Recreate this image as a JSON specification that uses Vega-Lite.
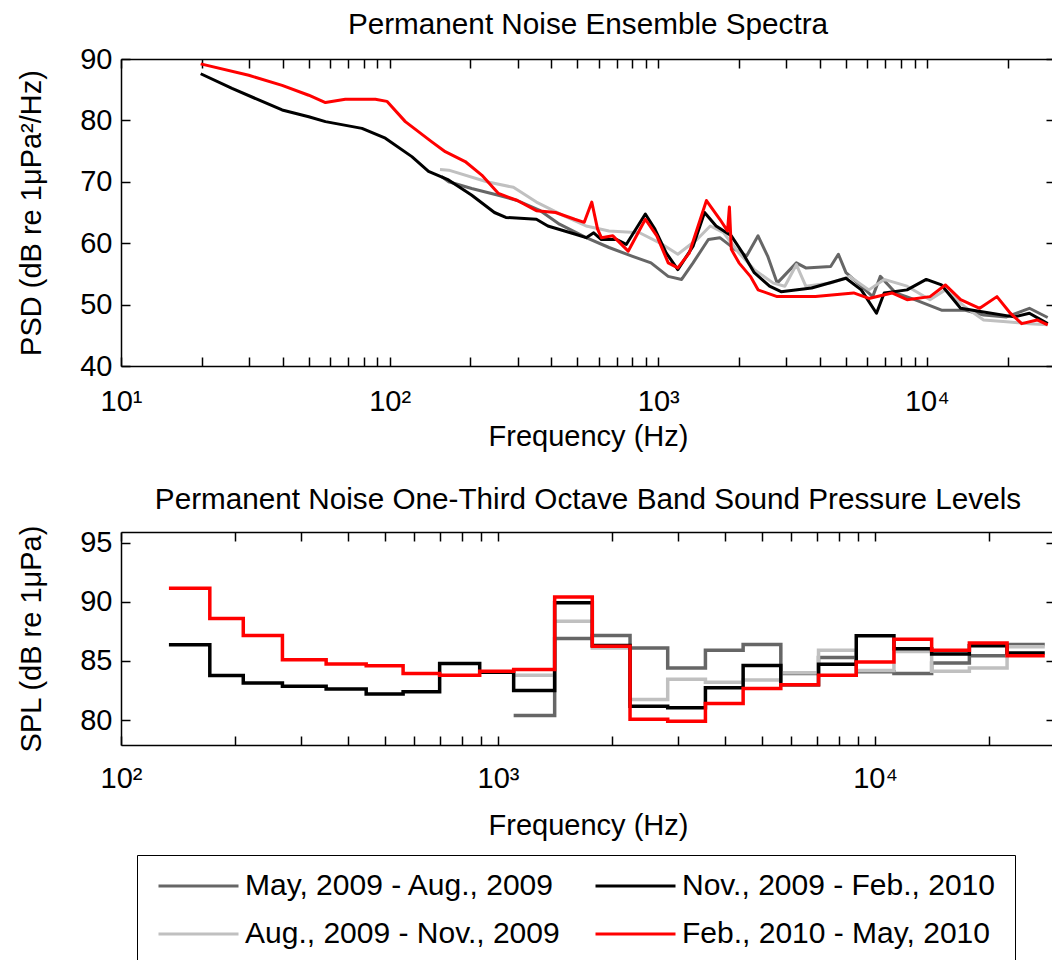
{
  "$schema": "https://vega.github.io/schema/vega-lite/v6.json",
  "padding": {"left": 17, "top": 10, "right": 0, "bottom": 0},
  "background": "white",
  "config": {
    "font": "Liberation Sans",
    "view": {"stroke": null},
    "axis": {
      "grid": false,
      "domainColor": "#000000",
      "domainWidth": 1.5,
      "tickColor": "#000000",
      "tickWidth": 1.5,
      "tickSize": -9,
      "labelColor": "#000000",
      "labelFontSize": 29,
      "labelFont": "Liberation Sans",
      "titleColor": "#000000",
      "titleFontSize": 29,
      "titleFont": "Liberation Sans",
      "titleFontWeight": "normal"
    },
    "title": {"fontSize": 29.7, "fontWeight": "normal", "color": "#000000", "font": "Liberation Sans", "baseline": "alphabetic"},
    "legend": {
      "title": null,
      "columns": 2,
      "symbolType": "stroke",
      "symbolSize": 6400,
      "symbolStrokeWidth": 3,
      "clipHeight": 22,
      "labelFontSize": 30,
      "labelFont": "Liberation Sans",
      "labelColor": "#000000",
      "labelLimit": 0,
      "labelOffset": 5,
      "columnPadding": 34,
      "rowPadding": 18,
      "padding": 20,
      "strokeColor": "#000000",
      "fillColor": "#ffffff"
    }
  },
  "datasets": {
    "psd": [
      {"s": "May, 2009 - Aug., 2009", "f": 156, "v": 70.85},
      {"s": "May, 2009 - Aug., 2009", "f": 166, "v": 70.0},
      {"s": "May, 2009 - Aug., 2009", "f": 202, "v": 68.9},
      {"s": "May, 2009 - Aug., 2009", "f": 254, "v": 67.8},
      {"s": "May, 2009 - Aug., 2009", "f": 299, "v": 66.95},
      {"s": "May, 2009 - Aug., 2009", "f": 364, "v": 65.3},
      {"s": "May, 2009 - Aug., 2009", "f": 429, "v": 63.1},
      {"s": "May, 2009 - Aug., 2009", "f": 539, "v": 60.9},
      {"s": "May, 2009 - Aug., 2009", "f": 656, "v": 59.3},
      {"s": "May, 2009 - Aug., 2009", "f": 798, "v": 57.9},
      {"s": "May, 2009 - Aug., 2009", "f": 940, "v": 56.8},
      {"s": "May, 2009 - Aug., 2009", "f": 1089, "v": 54.6},
      {"s": "May, 2009 - Aug., 2009", "f": 1222, "v": 54.1},
      {"s": "May, 2009 - Aug., 2009", "f": 1348, "v": 56.8},
      {"s": "May, 2009 - Aug., 2009", "f": 1537, "v": 60.6},
      {"s": "May, 2009 - Aug., 2009", "f": 1696, "v": 60.9},
      {"s": "May, 2009 - Aug., 2009", "f": 1933, "v": 59.0},
      {"s": "May, 2009 - Aug., 2009", "f": 2133, "v": 57.9},
      {"s": "May, 2009 - Aug., 2009", "f": 2353, "v": 61.2},
      {"s": "May, 2009 - Aug., 2009", "f": 2555, "v": 57.9},
      {"s": "May, 2009 - Aug., 2009", "f": 2772, "v": 53.5},
      {"s": "May, 2009 - Aug., 2009", "f": 3268, "v": 56.8},
      {"s": "May, 2009 - Aug., 2009", "f": 3543, "v": 55.97},
      {"s": "May, 2009 - Aug., 2009", "f": 4385, "v": 56.2},
      {"s": "May, 2009 - Aug., 2009", "f": 4685, "v": 58.2},
      {"s": "May, 2009 - Aug., 2009", "f": 5000, "v": 55.2},
      {"s": "May, 2009 - Aug., 2009", "f": 5700, "v": 53.0},
      {"s": "May, 2009 - Aug., 2009", "f": 6287, "v": 51.3},
      {"s": "May, 2009 - Aug., 2009", "f": 6712, "v": 54.6},
      {"s": "May, 2009 - Aug., 2009", "f": 7656, "v": 51.9},
      {"s": "May, 2009 - Aug., 2009", "f": 9016, "v": 50.8},
      {"s": "May, 2009 - Aug., 2009", "f": 11340, "v": 49.1},
      {"s": "May, 2009 - Aug., 2009", "f": 13799, "v": 49.1},
      {"s": "May, 2009 - Aug., 2009", "f": 16265, "v": 48.3},
      {"s": "May, 2009 - Aug., 2009", "f": 19808, "v": 48.0},
      {"s": "May, 2009 - Aug., 2009", "f": 24090, "v": 49.4},
      {"s": "May, 2009 - Aug., 2009", "f": 28180, "v": 47.9},

      {"s": "Aug., 2009 - Nov., 2009", "f": 154, "v": 72.0},
      {"s": "Aug., 2009 - Nov., 2009", "f": 166, "v": 71.9},
      {"s": "Aug., 2009 - Nov., 2009", "f": 230, "v": 70.0},
      {"s": "Aug., 2009 - Nov., 2009", "f": 289, "v": 69.1},
      {"s": "Aug., 2009 - Nov., 2009", "f": 352, "v": 66.7},
      {"s": "Aug., 2009 - Nov., 2009", "f": 444, "v": 64.5},
      {"s": "Aug., 2009 - Nov., 2009", "f": 539, "v": 62.8},
      {"s": "Aug., 2009 - Nov., 2009", "f": 656, "v": 62.0},
      {"s": "Aug., 2009 - Nov., 2009", "f": 852, "v": 61.7},
      {"s": "Aug., 2009 - Nov., 2009", "f": 1038, "v": 59.8},
      {"s": "Aug., 2009 - Nov., 2009", "f": 1183, "v": 58.2},
      {"s": "Aug., 2009 - Nov., 2009", "f": 1394, "v": 60.6},
      {"s": "Aug., 2009 - Nov., 2009", "f": 1562, "v": 62.8},
      {"s": "Aug., 2009 - Nov., 2009", "f": 1752, "v": 61.7},
      {"s": "Aug., 2009 - Nov., 2009", "f": 1998, "v": 58.4},
      {"s": "Aug., 2009 - Nov., 2009", "f": 2278, "v": 55.7},
      {"s": "Aug., 2009 - Nov., 2009", "f": 2683, "v": 53.5},
      {"s": "Aug., 2009 - Nov., 2009", "f": 2960, "v": 53.0},
      {"s": "Aug., 2009 - Nov., 2009", "f": 3268, "v": 56.5},
      {"s": "Aug., 2009 - Nov., 2009", "f": 3543, "v": 53.0},
      {"s": "Aug., 2009 - Nov., 2009", "f": 4385, "v": 53.5},
      {"s": "Aug., 2009 - Nov., 2009", "f": 5164, "v": 54.6},
      {"s": "Aug., 2009 - Nov., 2009", "f": 6086, "v": 52.4},
      {"s": "Aug., 2009 - Nov., 2009", "f": 6938, "v": 54.1},
      {"s": "Aug., 2009 - Nov., 2009", "f": 8442, "v": 53.0},
      {"s": "Aug., 2009 - Nov., 2009", "f": 10277, "v": 50.8},
      {"s": "Aug., 2009 - Nov., 2009", "f": 11718, "v": 52.4},
      {"s": "Aug., 2009 - Nov., 2009", "f": 13799, "v": 49.7},
      {"s": "Aug., 2009 - Nov., 2009", "f": 16265, "v": 47.5},
      {"s": "Aug., 2009 - Nov., 2009", "f": 19808, "v": 47.2},
      {"s": "Aug., 2009 - Nov., 2009", "f": 24090, "v": 46.9},
      {"s": "Aug., 2009 - Nov., 2009", "f": 28180, "v": 46.7},

      {"s": "Nov., 2009 - Feb., 2010", "f": 19.8, "v": 87.6},
      {"s": "Nov., 2009 - Feb., 2010", "f": 25.9, "v": 85.2},
      {"s": "Nov., 2009 - Feb., 2010", "f": 39.8, "v": 81.7},
      {"s": "Nov., 2009 - Feb., 2010", "f": 50, "v": 80.6},
      {"s": "Nov., 2009 - Feb., 2010", "f": 57.7, "v": 79.8},
      {"s": "Nov., 2009 - Feb., 2010", "f": 78.9, "v": 78.7},
      {"s": "Nov., 2009 - Feb., 2010", "f": 96.4, "v": 77.1},
      {"s": "Nov., 2009 - Feb., 2010", "f": 121, "v": 74.1},
      {"s": "Nov., 2009 - Feb., 2010", "f": 139.6, "v": 71.7},
      {"s": "Nov., 2009 - Feb., 2010", "f": 165.7, "v": 70.3},
      {"s": "Nov., 2009 - Feb., 2010", "f": 201.7, "v": 67.85},
      {"s": "Nov., 2009 - Feb., 2010", "f": 245.6, "v": 65.0},
      {"s": "Nov., 2009 - Feb., 2010", "f": 270.8, "v": 64.2},
      {"s": "Nov., 2009 - Feb., 2010", "f": 351.9, "v": 63.9},
      {"s": "Nov., 2009 - Feb., 2010", "f": 388.3, "v": 62.8},
      {"s": "Nov., 2009 - Feb., 2010", "f": 488.6, "v": 61.5},
      {"s": "Nov., 2009 - Feb., 2010", "f": 539.1, "v": 60.9},
      {"s": "Nov., 2009 - Feb., 2010", "f": 575.3, "v": 61.7},
      {"s": "Nov., 2009 - Feb., 2010", "f": 614.3, "v": 60.6},
      {"s": "Nov., 2009 - Feb., 2010", "f": 700.6, "v": 60.6},
      {"s": "Nov., 2009 - Feb., 2010", "f": 760.3, "v": 59.8},
      {"s": "Nov., 2009 - Feb., 2010", "f": 895.4, "v": 64.75},
      {"s": "Nov., 2009 - Feb., 2010", "f": 972, "v": 62.3},
      {"s": "Nov., 2009 - Feb., 2010", "f": 1071.8, "v": 58.4},
      {"s": "Nov., 2009 - Feb., 2010", "f": 1182.9, "v": 55.7},
      {"s": "Nov., 2009 - Feb., 2010", "f": 1348, "v": 59.5},
      {"s": "Nov., 2009 - Feb., 2010", "f": 1487.7, "v": 65.0},
      {"s": "Nov., 2009 - Feb., 2010", "f": 1641.7, "v": 62.8},
      {"s": "Nov., 2009 - Feb., 2010", "f": 1871, "v": 61.2},
      {"s": "Nov., 2009 - Feb., 2010", "f": 2063, "v": 58.4},
      {"s": "Nov., 2009 - Feb., 2010", "f": 2278, "v": 55.2},
      {"s": "Nov., 2009 - Feb., 2010", "f": 2597, "v": 53.0},
      {"s": "Nov., 2009 - Feb., 2010", "f": 2866, "v": 52.1},
      {"s": "Nov., 2009 - Feb., 2010", "f": 3724, "v": 52.7},
      {"s": "Nov., 2009 - Feb., 2010", "f": 5000, "v": 54.3},
      {"s": "Nov., 2009 - Feb., 2010", "f": 5700, "v": 52.4},
      {"s": "Nov., 2009 - Feb., 2010", "f": 6495, "v": 48.6},
      {"s": "Nov., 2009 - Feb., 2010", "f": 6938, "v": 51.9},
      {"s": "Nov., 2009 - Feb., 2010", "f": 8442, "v": 52.4},
      {"s": "Nov., 2009 - Feb., 2010", "f": 9950, "v": 54.1},
      {"s": "Nov., 2009 - Feb., 2010", "f": 11340, "v": 53.2},
      {"s": "Nov., 2009 - Feb., 2010", "f": 13357, "v": 49.4},
      {"s": "Nov., 2009 - Feb., 2010", "f": 16265, "v": 48.8},
      {"s": "Nov., 2009 - Feb., 2010", "f": 21130, "v": 48.0},
      {"s": "Nov., 2009 - Feb., 2010", "f": 24090, "v": 48.6},
      {"s": "Nov., 2009 - Feb., 2010", "f": 28180, "v": 46.9},

      {"s": "Feb., 2010 - May, 2010", "f": 19.8, "v": 89.2},
      {"s": "Feb., 2010 - May, 2010", "f": 29.9, "v": 87.35},
      {"s": "Feb., 2010 - May, 2010", "f": 39.8, "v": 85.7},
      {"s": "Feb., 2010 - May, 2010", "f": 50, "v": 84.1},
      {"s": "Feb., 2010 - May, 2010", "f": 57.7, "v": 82.9},
      {"s": "Feb., 2010 - May, 2010", "f": 68.4, "v": 83.45},
      {"s": "Feb., 2010 - May, 2010", "f": 88.5, "v": 83.45},
      {"s": "Feb., 2010 - May, 2010", "f": 97.7, "v": 83.1},
      {"s": "Feb., 2010 - May, 2010", "f": 114.4, "v": 79.8},
      {"s": "Feb., 2010 - May, 2010", "f": 143.6, "v": 76.5},
      {"s": "Feb., 2010 - May, 2010", "f": 161.1, "v": 74.9},
      {"s": "Feb., 2010 - May, 2010", "f": 191.1, "v": 73.3},
      {"s": "Feb., 2010 - May, 2010", "f": 220.3, "v": 71.1},
      {"s": "Feb., 2010 - May, 2010", "f": 254.2, "v": 68.1},
      {"s": "Feb., 2010 - May, 2010", "f": 298.9, "v": 66.95},
      {"s": "Feb., 2010 - May, 2010", "f": 351.9, "v": 65.3},
      {"s": "Feb., 2010 - May, 2010", "f": 414.7, "v": 65.0},
      {"s": "Feb., 2010 - May, 2010", "f": 488.6, "v": 63.9},
      {"s": "Feb., 2010 - May, 2010", "f": 530.4, "v": 63.4},
      {"s": "Feb., 2010 - May, 2010", "f": 565.8, "v": 66.7},
      {"s": "Feb., 2010 - May, 2010", "f": 594.6, "v": 62.3},
      {"s": "Feb., 2010 - May, 2010", "f": 614.3, "v": 60.9},
      {"s": "Feb., 2010 - May, 2010", "f": 678, "v": 61.2},
      {"s": "Feb., 2010 - May, 2010", "f": 773, "v": 58.7},
      {"s": "Feb., 2010 - May, 2010", "f": 895.4, "v": 63.9},
      {"s": "Feb., 2010 - May, 2010", "f": 988, "v": 61.2},
      {"s": "Feb., 2010 - May, 2010", "f": 1089.4, "v": 56.8},
      {"s": "Feb., 2010 - May, 2010", "f": 1182.9, "v": 55.97},
      {"s": "Feb., 2010 - May, 2010", "f": 1305, "v": 58.4},
      {"s": "Feb., 2010 - May, 2010", "f": 1512, "v": 66.95},
      {"s": "Feb., 2010 - May, 2010", "f": 1696, "v": 63.9},
      {"s": "Feb., 2010 - May, 2010", "f": 1811, "v": 62.0},
      {"s": "Feb., 2010 - May, 2010", "f": 1841, "v": 65.9},
      {"s": "Feb., 2010 - May, 2010", "f": 1871, "v": 59.0},
      {"s": "Feb., 2010 - May, 2010", "f": 1998, "v": 56.8},
      {"s": "Feb., 2010 - May, 2010", "f": 2203, "v": 54.6},
      {"s": "Feb., 2010 - May, 2010", "f": 2353, "v": 52.4},
      {"s": "Feb., 2010 - May, 2010", "f": 2772, "v": 51.3},
      {"s": "Feb., 2010 - May, 2010", "f": 3847, "v": 51.3},
      {"s": "Feb., 2010 - May, 2010", "f": 5340, "v": 51.9},
      {"s": "Feb., 2010 - May, 2010", "f": 6086, "v": 51.0},
      {"s": "Feb., 2010 - May, 2010", "f": 7413, "v": 51.9},
      {"s": "Feb., 2010 - May, 2010", "f": 8442, "v": 50.8},
      {"s": "Feb., 2010 - May, 2010", "f": 10277, "v": 51.3},
      {"s": "Feb., 2010 - May, 2010", "f": 11718, "v": 53.2},
      {"s": "Feb., 2010 - May, 2010", "f": 13357, "v": 50.8},
      {"s": "Feb., 2010 - May, 2010", "f": 15731, "v": 49.4},
      {"s": "Feb., 2010 - May, 2010", "f": 18239, "v": 51.3},
      {"s": "Feb., 2010 - May, 2010", "f": 20456, "v": 48.6},
      {"s": "Feb., 2010 - May, 2010", "f": 22550, "v": 46.9},
      {"s": "Feb., 2010 - May, 2010", "f": 25728, "v": 47.5},
      {"s": "Feb., 2010 - May, 2010", "f": 28180, "v": 46.7}
    ],
    "spl": [
      {"s": "May, 2009 - Aug., 2009", "f": 1100, "v": 80.4},
      {"s": "May, 2009 - Aug., 2009", "f": 1413, "v": 86.9},
      {"s": "May, 2009 - Aug., 2009", "f": 1778, "v": 87.15},
      {"s": "May, 2009 - Aug., 2009", "f": 2239, "v": 86.1},
      {"s": "May, 2009 - Aug., 2009", "f": 2818, "v": 84.4},
      {"s": "May, 2009 - Aug., 2009", "f": 3548, "v": 85.9},
      {"s": "May, 2009 - Aug., 2009", "f": 4467, "v": 86.4},
      {"s": "May, 2009 - Aug., 2009", "f": 5623, "v": 83.95},
      {"s": "May, 2009 - Aug., 2009", "f": 7079, "v": 85.3},
      {"s": "May, 2009 - Aug., 2009", "f": 8913, "v": 84.1},
      {"s": "May, 2009 - Aug., 2009", "f": 11220, "v": 83.95},
      {"s": "May, 2009 - Aug., 2009", "f": 14125, "v": 84.83},
      {"s": "May, 2009 - Aug., 2009", "f": 17783, "v": 85.45},
      {"s": "May, 2009 - Aug., 2009", "f": 22387, "v": 86.4},
      {"s": "May, 2009 - Aug., 2009", "f": 28184, "v": 86.4},

      {"s": "Aug., 2009 - Nov., 2009", "f": 1100, "v": 83.8},
      {"s": "Aug., 2009 - Nov., 2009", "f": 1413, "v": 88.35},
      {"s": "Aug., 2009 - Nov., 2009", "f": 1778, "v": 86.1},
      {"s": "Aug., 2009 - Nov., 2009", "f": 2239, "v": 81.75},
      {"s": "Aug., 2009 - Nov., 2009", "f": 2818, "v": 83.45},
      {"s": "Aug., 2009 - Nov., 2009", "f": 3548, "v": 83.2},
      {"s": "Aug., 2009 - Nov., 2009", "f": 4467, "v": 83.4},
      {"s": "Aug., 2009 - Nov., 2009", "f": 5623, "v": 84.0},
      {"s": "Aug., 2009 - Nov., 2009", "f": 7079, "v": 85.9},
      {"s": "Aug., 2009 - Nov., 2009", "f": 8913, "v": 84.2},
      {"s": "Aug., 2009 - Nov., 2009", "f": 11220, "v": 85.8},
      {"s": "Aug., 2009 - Nov., 2009", "f": 14125, "v": 84.13},
      {"s": "Aug., 2009 - Nov., 2009", "f": 17783, "v": 84.4},
      {"s": "Aug., 2009 - Nov., 2009", "f": 22387, "v": 86.2},
      {"s": "Aug., 2009 - Nov., 2009", "f": 28184, "v": 86.2},

      {"s": "Nov., 2009 - Feb., 2010", "f": 134, "v": 86.38},
      {"s": "Nov., 2009 - Feb., 2010", "f": 172, "v": 83.77},
      {"s": "Nov., 2009 - Feb., 2010", "f": 211, "v": 83.15},
      {"s": "Nov., 2009 - Feb., 2010", "f": 268, "v": 82.87},
      {"s": "Nov., 2009 - Feb., 2010", "f": 350, "v": 82.64},
      {"s": "Nov., 2009 - Feb., 2010", "f": 447, "v": 82.22},
      {"s": "Nov., 2009 - Feb., 2010", "f": 560, "v": 82.39},
      {"s": "Nov., 2009 - Feb., 2010", "f": 700, "v": 84.78},
      {"s": "Nov., 2009 - Feb., 2010", "f": 894, "v": 84.05},
      {"s": "Nov., 2009 - Feb., 2010", "f": 1100, "v": 82.5},
      {"s": "Nov., 2009 - Feb., 2010", "f": 1413, "v": 89.92},
      {"s": "Nov., 2009 - Feb., 2010", "f": 1778, "v": 86.3},
      {"s": "Nov., 2009 - Feb., 2010", "f": 2239, "v": 81.18},
      {"s": "Nov., 2009 - Feb., 2010", "f": 2818, "v": 81.04},
      {"s": "Nov., 2009 - Feb., 2010", "f": 3548, "v": 82.73},
      {"s": "Nov., 2009 - Feb., 2010", "f": 4467, "v": 84.61},
      {"s": "Nov., 2009 - Feb., 2010", "f": 5623, "v": 83.0},
      {"s": "Nov., 2009 - Feb., 2010", "f": 7079, "v": 84.72},
      {"s": "Nov., 2009 - Feb., 2010", "f": 8913, "v": 87.14},
      {"s": "Nov., 2009 - Feb., 2010", "f": 11220, "v": 86.03},
      {"s": "Nov., 2009 - Feb., 2010", "f": 14125, "v": 85.6},
      {"s": "Nov., 2009 - Feb., 2010", "f": 17783, "v": 86.29},
      {"s": "Nov., 2009 - Feb., 2010", "f": 22387, "v": 85.67},
      {"s": "Nov., 2009 - Feb., 2010", "f": 28184, "v": 85.67},

      {"s": "Feb., 2010 - May, 2010", "f": 134, "v": 91.15},
      {"s": "Feb., 2010 - May, 2010", "f": 172, "v": 88.6},
      {"s": "Feb., 2010 - May, 2010", "f": 211, "v": 87.15},
      {"s": "Feb., 2010 - May, 2010", "f": 268, "v": 85.1},
      {"s": "Feb., 2010 - May, 2010", "f": 350, "v": 84.75},
      {"s": "Feb., 2010 - May, 2010", "f": 447, "v": 84.6},
      {"s": "Feb., 2010 - May, 2010", "f": 560, "v": 83.95},
      {"s": "Feb., 2010 - May, 2010", "f": 700, "v": 83.8},
      {"s": "Feb., 2010 - May, 2010", "f": 894, "v": 84.13},
      {"s": "Feb., 2010 - May, 2010", "f": 1100, "v": 84.27},
      {"s": "Feb., 2010 - May, 2010", "f": 1413, "v": 90.4},
      {"s": "Feb., 2010 - May, 2010", "f": 1778, "v": 86.24},
      {"s": "Feb., 2010 - May, 2010", "f": 2239, "v": 80.08},
      {"s": "Feb., 2010 - May, 2010", "f": 2818, "v": 79.9},
      {"s": "Feb., 2010 - May, 2010", "f": 3548, "v": 81.4},
      {"s": "Feb., 2010 - May, 2010", "f": 4467, "v": 82.67},
      {"s": "Feb., 2010 - May, 2010", "f": 5623, "v": 83.0},
      {"s": "Feb., 2010 - May, 2010", "f": 7079, "v": 83.8},
      {"s": "Feb., 2010 - May, 2010", "f": 8913, "v": 84.92},
      {"s": "Feb., 2010 - May, 2010", "f": 11220, "v": 86.83},
      {"s": "Feb., 2010 - May, 2010", "f": 14125, "v": 85.9},
      {"s": "Feb., 2010 - May, 2010", "f": 17783, "v": 86.52},
      {"s": "Feb., 2010 - May, 2010", "f": 22387, "v": 85.45},
      {"s": "Feb., 2010 - May, 2010", "f": 28184, "v": 85.45}
    ]
  },
  "vconcat": [
    {
      "width": 934,
      "height": 307,
      "title": {"text": "Permanent Noise Ensemble Spectra", "offset": 4},
      "data": {"name": "psd"},
      "layer": [
        {
          "mark": {"type": "line", "strokeWidth": 3, "strokeJoin": "round"},
          "encoding": {
            "x": {
              "field": "f", "type": "quantitative",
              "scale": {"type": "log", "domain": [10, 30000], "nice": false},
              "axis": {
                "orient": "bottom",
                "values": [10, 20, 30, 40, 50, 60, 70, 80, 90, 100, 200, 300, 400, 500, 600, 700, 800, 900, 1000, 2000, 3000, 4000, 5000, 6000, 7000, 8000, 9000, 10000, 20000],
                "labelExpr": "datum.value == 10 ? '10¹' : datum.value == 100 ? '10²' : datum.value == 1000 ? '10³' : datum.value == 10000 ? '10⁴' : ''",
                "labelFlush": false,
                "labelOverlap": false,
                "labelPadding": 30,
                "title": "Frequency (Hz)",
                "titlePadding": 6
              }
            },
            "y": {
              "field": "v", "type": "quantitative",
              "scale": {"domain": [40, 90], "nice": false, "zero": false},
              "axis": {
                "orient": "left",
                "values": [40, 50, 60, 70, 80, 90],
                "labelPadding": 18,
                "title": "PSD (dB re 1μPa²/Hz)",
                "titlePadding": 33
              }
            },
            "color": {
              "field": "s", "type": "nominal",
              "scale": {
                "domain": ["May, 2009 - Aug., 2009", "Aug., 2009 - Nov., 2009", "Nov., 2009 - Feb., 2010", "Feb., 2010 - May, 2010"],
                "range": ["#666666", "#c0c0c0", "#000000", "#ff0000"]
              },
              "legend": {"orient": "none", "legendX": 16, "legendY": 796}
            }
          }
        },
        {
          "mark": {"type": "point", "opacity": 0},
          "encoding": {
            "x": {
              "field": "f", "type": "quantitative",
              "scale": {"type": "log", "domain": [10, 30000], "nice": false},
              "axis": {
                "orient": "top", "labels": false, "title": null,
                "values": [10, 20, 30, 40, 50, 60, 70, 80, 90, 100, 200, 300, 400, 500, 600, 700, 800, 900, 1000, 2000, 3000, 4000, 5000, 6000, 7000, 8000, 9000, 10000, 20000]
              }
            },
            "y": {
              "field": "v", "type": "quantitative",
              "scale": {"domain": [40, 90], "nice": false, "zero": false},
              "axis": {"orient": "right", "labels": false, "title": null, "values": [40, 50, 60, 70, 80, 90]}
            }
          }
        }
      ],
      "resolve": {"axis": {"x": "independent", "y": "independent"}}
    },
    {
      "width": 934,
      "height": 213,
      "title": {"text": "Permanent Noise One-Third Octave Band Sound Pressure Levels", "offset": 9},
      "data": {"name": "spl"},
      "layer": [
        {
          "mark": {"type": "line", "strokeWidth": 3.5, "interpolate": "step-after"},
          "encoding": {
            "x": {
              "field": "f", "type": "quantitative",
              "scale": {"type": "log", "domain": [100, 30000], "nice": false},
              "axis": {
                "orient": "bottom",
                "values": [100, 200, 300, 400, 500, 600, 700, 800, 900, 1000, 2000, 3000, 4000, 5000, 6000, 7000, 8000, 9000, 10000, 20000],
                "labelExpr": "datum.value == 100 ? '10²' : datum.value == 1000 ? '10³' : datum.value == 10000 ? '10⁴' : ''",
                "labelFlush": false,
                "labelOverlap": false,
                "labelPadding": 28,
                "title": "Frequency (Hz)",
                "titlePadding": 18
              }
            },
            "y": {
              "field": "v", "type": "quantitative",
              "scale": {"domain": [77.9, 95.9], "nice": false, "zero": false},
              "axis": {
                "orient": "left",
                "values": [80, 85, 90, 95],
                "labelPadding": 18,
                "title": "SPL (dB re 1μPa)",
                "titlePadding": 33
              }
            },
            "color": {
              "field": "s", "type": "nominal",
              "scale": {
                "domain": ["May, 2009 - Aug., 2009", "Aug., 2009 - Nov., 2009", "Nov., 2009 - Feb., 2010", "Feb., 2010 - May, 2010"],
                "range": ["#666666", "#c0c0c0", "#000000", "#ff0000"]
              },
              "legend": {"orient": "none", "legendX": 16, "legendY": 796}
            }
          }
        },
        {
          "mark": {"type": "point", "opacity": 0},
          "encoding": {
            "x": {
              "field": "f", "type": "quantitative",
              "scale": {"type": "log", "domain": [100, 30000], "nice": false},
              "axis": {
                "orient": "top", "labels": false, "title": null,
                "values": [100, 200, 300, 400, 500, 600, 700, 800, 900, 1000, 2000, 3000, 4000, 5000, 6000, 7000, 8000, 9000, 10000, 20000]
              }
            },
            "y": {
              "field": "v", "type": "quantitative",
              "scale": {"domain": [77.9, 95.9], "nice": false, "zero": false},
              "axis": {"orient": "right", "labels": false, "title": null, "values": [80, 85, 90, 95]}
            }
          }
        }
      ],
      "resolve": {"axis": {"x": "independent", "y": "independent"}}
    }
  ],
  "spacing": 33,
  "resolve": {"scale": {"color": "shared"}, "legend": {"color": "shared"}}
}
